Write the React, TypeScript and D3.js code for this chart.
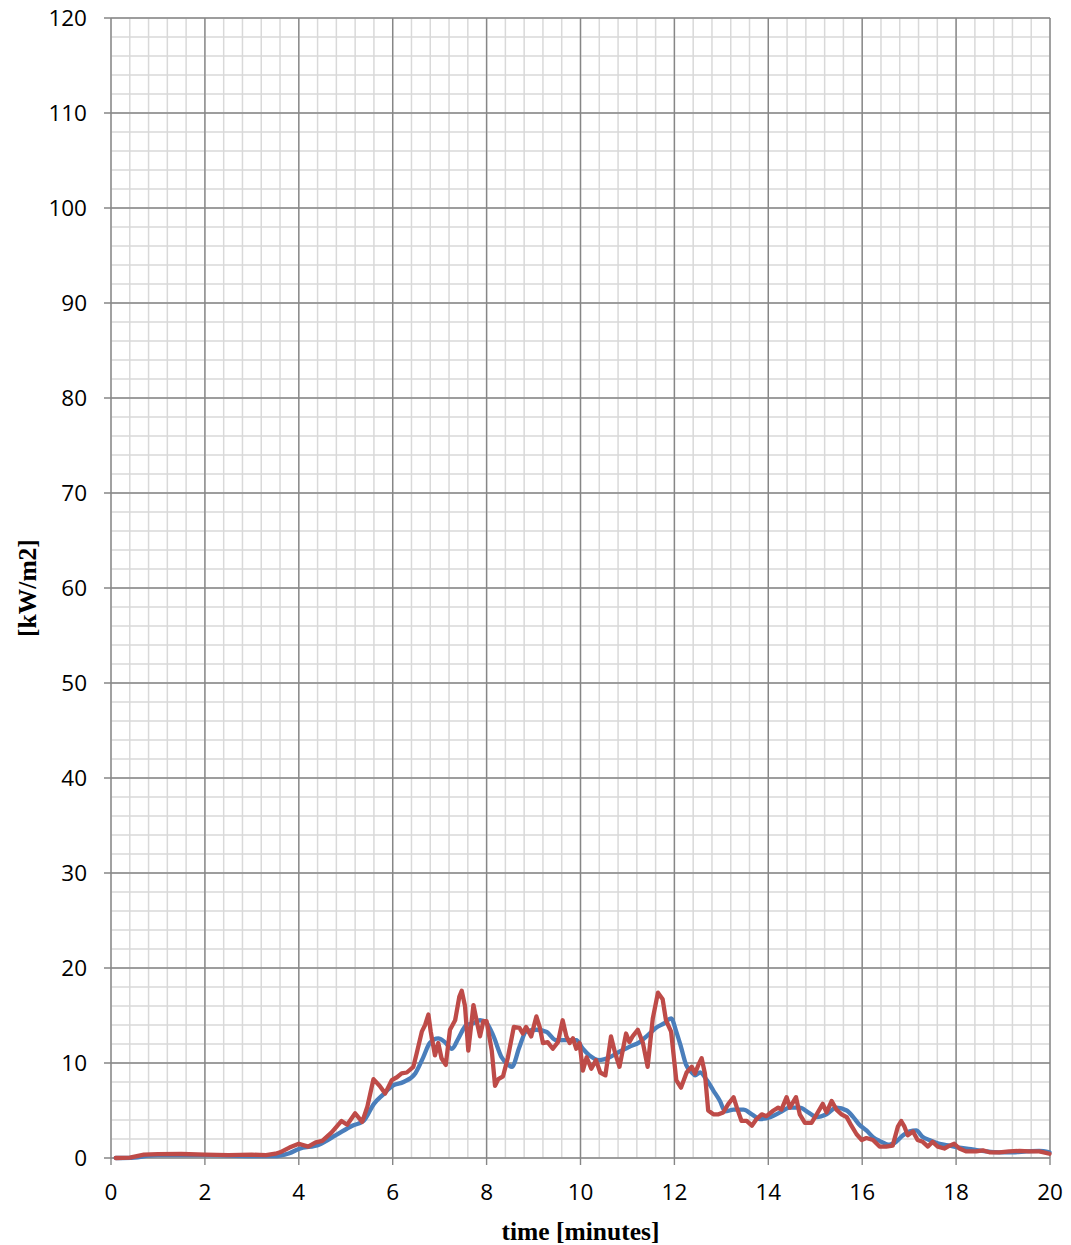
import React from "react";
import * as d3 from "d3";

const redT = [0.1,0.4,0.7,1.0,1.5,2.0,2.5,3.0,3.3,3.5,3.6,3.8,4.0,4.2,4.36,4.5,4.7,4.91,5.03,5.2,5.35,5.46,5.59,5.72,5.84,5.98,6.09,6.19,6.3,6.44,6.51,6.62,6.69,6.76,6.81,6.9,6.97,7.04,7.13,7.22,7.33,7.42,7.47,7.54,7.61,7.72,7.79,7.86,7.93,8.0,8.11,8.18,8.25,8.35,8.45,8.58,8.7,8.77,8.84,8.95,9.06,9.13,9.2,9.3,9.41,9.52,9.62,9.7,9.77,9.84,9.91,9.98,10.05,10.13,10.23,10.33,10.42,10.53,10.65,10.74,10.83,10.97,11.04,11.11,11.22,11.33,11.43,11.54,11.65,11.75,11.82,11.93,12.04,12.14,12.26,12.37,12.44,12.51,12.58,12.65,12.72,12.83,12.94,13.04,13.15,13.26,13.33,13.43,13.54,13.65,13.75,13.86,13.96,14.11,14.21,14.28,14.39,14.46,14.59,14.67,14.78,14.92,15.03,15.16,15.24,15.35,15.45,15.56,15.67,15.77,15.88,15.99,16.09,16.23,16.37,16.51,16.65,16.76,16.83,16.9,16.97,17.08,17.18,17.29,17.4,17.5,17.61,17.75,17.86,17.96,18.07,18.21,18.43,18.57,18.71,18.92,19.13,19.35,19.56,19.77,19.99];
const redV = [0,0.05,0.35,0.4,0.42,0.35,0.3,0.35,0.3,0.45,0.6,1.1,1.5,1.2,1.65,1.8,2.7,3.9,3.5,4.7,3.8,5.4,8.3,7.6,6.8,8.2,8.5,8.9,9.0,9.6,11.0,13.3,14.0,15.1,13.3,10.8,12.1,10.5,9.8,13.5,14.5,17.0,17.6,16.0,11.3,16.1,14.4,12.8,14.4,14.4,11.3,7.6,8.3,8.6,10.5,13.8,13.7,13.1,13.8,12.8,14.9,13.8,12.1,12.2,11.5,12.2,14.5,12.8,12.1,12.6,11.5,12.1,9.2,10.6,9.4,10.3,9.0,8.7,12.8,11.0,9.6,13.1,12.2,12.8,13.5,12.1,9.6,14.7,17.4,16.7,14.5,13.3,8.2,7.4,9.0,9.6,8.9,9.8,10.5,8.9,5.0,4.6,4.6,4.8,5.7,6.4,5.3,3.9,3.9,3.4,4.1,4.6,4.4,5.0,5.3,5.1,6.4,5.3,6.4,4.6,3.7,3.7,4.6,5.7,4.8,6.0,5.1,4.6,4.3,3.4,2.5,1.9,2.1,1.9,1.2,1.2,1.3,3.3,3.9,3.3,2.4,2.8,1.9,1.7,1.2,1.7,1.2,1.0,1.3,1.5,1.0,0.7,0.7,0.8,0.6,0.6,0.7,0.75,0.7,0.7,0.45];

const blueT = [0.1,0.5,0.8,1.0,2.0,3.0,3.5,3.6,3.8,4.0,4.43,4.79,5.14,5.38,5.6,5.8,6.0,6.23,6.48,6.65,6.79,6.97,7.11,7.26,7.4,7.57,7.72,7.86,8.0,8.14,8.32,8.46,8.54,8.7,8.84,9.06,9.27,9.48,9.7,9.91,10.05,10.19,10.4,10.62,10.83,11.04,11.26,11.43,11.61,11.79,11.93,12.04,12.14,12.25,12.37,12.44,12.55,12.69,12.83,12.97,13.08,13.26,13.47,13.65,13.82,14.04,14.25,14.46,14.67,14.85,15.03,15.24,15.45,15.67,15.81,15.94,16.09,16.23,16.37,16.58,16.72,16.87,17.01,17.15,17.29,17.43,17.65,17.86,18.07,18.35,18.64,18.92,19.21,19.5,19.77,19.99];
const blueV = [0,0.05,0.25,0.3,0.3,0.2,0.2,0.25,0.5,0.95,1.4,2.4,3.4,3.9,5.7,6.7,7.6,8.0,8.9,10.6,12.1,12.6,12.2,11.5,12.6,14.0,14.2,14.5,14.2,12.9,10.6,9.8,9.6,11.7,13.3,13.5,13.3,12.4,12.4,12.4,11.5,10.8,10.3,10.6,11.2,11.7,12.2,12.9,13.7,14.2,14.7,13.3,11.7,9.8,9.0,8.7,9.0,8.2,7.1,6.0,4.9,5.1,5.1,4.6,4.1,4.3,4.8,5.3,5.3,4.8,4.3,4.6,5.3,5.0,4.3,3.5,2.9,2.2,1.8,1.4,1.7,2.4,2.8,2.9,2.2,1.9,1.5,1.3,1.1,0.9,0.7,0.6,0.6,0.7,0.75,0.6];

const xTicks = [0,2,4,6,8,10,12,14,16,18,20];
const yTicks = [0,10,20,30,40,50,60,70,80,90,100,110,120];
const xTitle = "time [minutes]";
const yTitle = "[kW/m2]";

const W = 1071, H = 1245;
const L = 111, R = 1050, T = 18, B = 1158;

export default function App() {
  const x = d3.scaleLinear().domain([0, 20]).range([L, R]);
  const y = d3.scaleLinear().domain([0, 120]).range([B, T]);
  const xMinor = d3.range(0, 20.001, 0.4);
  const yMinor = d3.range(0, 120.001, 2);
  const line = d3.line<[number, number]>().x(d => x(d[0])).y(d => y(d[1]));
  const blueLine = d3.line<[number, number]>().x(d => x(d[0])).y(d => y(d[1])).curve(d3.curveMonotoneX);
  const red = redT.map((t, i) => [t, redV[i]] as [number, number]);
  const blue = blueT.map((t, i) => [t, blueV[i]] as [number, number]);
  const font = "'Open Sans', sans-serif";
  return (
    <div style={{ position: "absolute", left: 0, top: 0 }}>
      <svg width={W} height={H} style={{ display: "block", background: "#fff" }}>
        <g>
          {xMinor.map((v, i) => (
            <line key={"xm" + i} x1={x(v)} x2={x(v)} y1={T} y2={B} stroke="#d9d9d9" strokeWidth={1.5} />
          ))}
          {yMinor.map((v, i) => (
            <line key={"ym" + i} x1={L} x2={R} y1={y(v)} y2={y(v)} stroke="#d9d9d9" strokeWidth={1.5} />
          ))}
          {xTicks.map((v, i) => (
            <line key={"xM" + i} x1={x(v)} x2={x(v)} y1={T} y2={B + 7} stroke="#868686" strokeWidth={1.4} />
          ))}
          {yTicks.map((v, i) => (
            <line key={"yM" + i} x1={L - 7} x2={R} y1={y(v)} y2={y(v)} stroke="#868686" strokeWidth={1.4} />
          ))}
        </g>
        <path d={blueLine(blue) || ""} fill="none" stroke="#4a7ebb" strokeWidth={4.3} strokeLinejoin="round" strokeLinecap="round" />
        <path d={line(red) || ""} fill="none" stroke="#be4b48" strokeWidth={4.3} strokeLinejoin="round" strokeLinecap="round" />
        {yTicks.map((v, i) => (
          <text key={"yl" + i} x={L - 24} y={y(v)} dy="0.36em" textAnchor="end" fontFamily={font} fontSize={22.5} fill="#000">{v}</text>
        ))}
        {xTicks.map((v, i) => (
          <text key={"xl" + i} x={x(v)} y={B + 34} dy="0.36em" textAnchor="middle" fontFamily={font} fontSize={22.5} fill="#000">{v}</text>
        ))}
        <text x={(L + R) / 2} y={1240} textAnchor="middle" fontFamily="'Liberation Serif', serif" fontWeight="bold" fontSize={25.5} fill="#000">{xTitle}</text>
        <text transform={`translate(36, ${(T + B) / 2}) rotate(-90)`} textAnchor="middle" fontFamily="'Liberation Serif', serif" fontWeight="bold" fontSize={25.5} fill="#000">{yTitle}</text>
      </svg>
    </div>
  );
}
